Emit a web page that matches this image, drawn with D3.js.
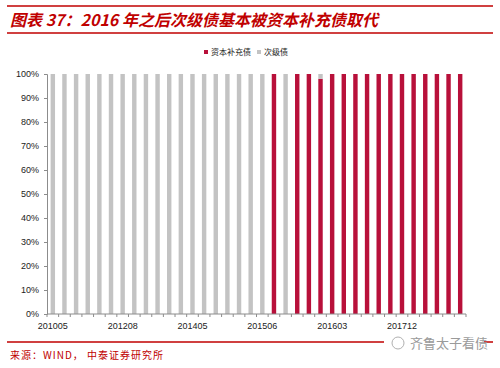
<!DOCTYPE html>
<html>
<head>
<meta charset="utf-8">
<script src="https://cdn.jsdelivr.net/npm/d3@7"></script>
<style>
  body { margin: 0; background: #fff; }
  svg { display: block; }
</style>
</head>
<body>
<div id="chart"></div>
<script>
// issue dates (only every 6th is labelled on the axis)
const categories = [
  "201005", "201009", "201012", "201103", "201109", "201203",
  "201208", "201210", "201212", "201303", "201309", "201312",
  "201405", "201408", "201410", "201412", "201502", "201504",
  "201506", "201508", "201509", "201511", "201512", "201601",
  "201603", "201606", "201609", "201612", "201703", "201709",
  "201712", "201803", "201806", "201809", "201812", "201903"
];

// share of capital supplement bonds (%)
const capitalBond = [
  0, 0, 0, 0, 0, 0, 0, 0, 0, 0, 0, 0, 0, 0, 0, 0, 0, 0,
  0, 100, 0, 100, 100, 98, 100, 100, 100, 100, 100, 100,
  100, 100, 100, 100, 100, 100
];
// share of subordinated bonds (%)
const subBond = [
  100, 100, 100, 100, 100, 100, 100, 100, 100, 100, 100, 100,
  100, 100, 100, 100, 100, 100, 100, 0, 100, 0, 0, 2,
  0, 0, 0, 0, 0, 0, 0, 0, 0, 0, 0, 0
];

const yTicks = [0, 10, 20, 30, 40, 50, 60, 70, 80, 90, 100];
const seriesNames = ["资本补充债", "次级债"];
const colors = ["#b8103a", "#c3c3c3"];

const width = 500, height = 368;
const margin = { left: 47, right: 34, top: 74, bottom: 54 };

const svg = d3.select("#chart").append("svg")
  .attr("width", width)
  .attr("height", height);

const darkRed = "#c00000";

// header lines and title
svg.append("line").attr("x1", 7).attr("x2", 493).attr("y1", 6).attr("y2", 6)
  .attr("stroke", darkRed).attr("stroke-width", 1.5);
svg.append("line").attr("x1", 7).attr("x2", 493).attr("y1", 33).attr("y2", 33)
  .attr("stroke", darkRed).attr("stroke-width", 1.5);

svg.append("text")
  .attr("x", 10).attr("y", 26)
  .attr("fill", darkRed)
  .style("font-family", "'Noto Sans CJK SC', sans-serif")
  .style("font-size", "16px")
  .style("font-weight", "bold")
  .style("font-style", "italic")
  .text("图表 37：2016 年之后次级债基本被资本补充债取代");

const x = d3.scaleBand()
  .domain(categories)
  .range([margin.left, width - margin.right])
  .paddingInner(0.62)
  .paddingOuter(0.31);

const y = d3.scaleLinear()
  .domain([0, 100])
  .range([height - margin.bottom, margin.top]);

const table = categories.map((c, i) => ({ cat: c, cap: capitalBond[i], sub: subBond[i] }));
const stacked = d3.stack().keys(["cap", "sub"])(table);

svg.append("g")
  .selectAll("g")
  .data(stacked)
  .join("g")
  .attr("fill", (d, i) => colors[i])
  .selectAll("rect")
  .data(d => d)
  .join("rect")
  .attr("x", d => x(d.data.cat))
  .attr("y", d => y(d[1]))
  .attr("width", x.bandwidth())
  .attr("height", d => y(d[0]) - y(d[1]));

const axisColor = "#8c8c8c";
const fontTick = "'Liberation Sans', Arial, sans-serif";

// y axis
const yAxis = svg.append("g")
  .attr("transform", `translate(${margin.left},0)`)
  .call(d3.axisLeft(y).tickValues(yTicks).tickSize(3).tickPadding(5)
    .tickFormat(d => d + "%"));
yAxis.select(".domain").attr("stroke", axisColor);
yAxis.selectAll(".tick line").attr("stroke", axisColor);
yAxis.selectAll("text")
  .attr("fill", "#222")
  .style("font-family", fontTick)
  .style("font-size", "9px");

// x axis
const step = x.step();
const xAxis = svg.append("g")
  .attr("transform", `translate(0,${height - margin.bottom})`);
xAxis.append("line")
  .attr("x1", margin.left).attr("x2", width - margin.right)
  .attr("stroke", axisColor);
xAxis.selectAll(".tk")
  .data(categories.concat(["end"]))
  .join("line")
  .attr("class", "tk")
  .attr("x1", (d, i) => margin.left + i * step)
  .attr("x2", (d, i) => margin.left + i * step)
  .attr("y1", 0).attr("y2", 3)
  .attr("stroke", axisColor);
xAxis.selectAll("text")
  .data(categories.filter((d, i) => i % 6 === 0))
  .join("text")
  .attr("x", d => x(d) + x.bandwidth() / 2)
  .attr("y", 15)
  .attr("text-anchor", "middle")
  .attr("fill", "#222")
  .style("font-family", fontTick)
  .style("font-size", "9px")
  .text(d => d);

// legend
const legend = svg.append("g").attr("transform", "translate(204,53)");
const legendX = [0, 53];
seriesNames.forEach((name, i) => {
  const g = legend.append("g").attr("transform", `translate(${legendX[i]},0)`);
  g.append("rect").attr("x", 0).attr("y", -3).attr("width", 4).attr("height", 4)
    .attr("fill", colors[i]);
  g.append("text").attr("x", 7).attr("y", 1.5)
    .attr("fill", "#222")
    .style("font-family", "'Noto Sans CJK SC', sans-serif")
    .style("font-size", "8px")
    .text(name);
});

// footer
svg.append("line").attr("x1", 7).attr("x2", 493).attr("y1", 342).attr("y2", 342)
  .attr("stroke", darkRed).attr("stroke-width", 1.5);
svg.append("rect").attr("x", 384).attr("y", 332).attr("width", 100).attr("height", 18)
  .attr("fill", "#fff");
svg.append("text")
  .attr("x", 410).attr("y", 348)
  .attr("fill", "#9a9a9a")
  .style("font-family", "'Noto Sans CJK SC', sans-serif")
  .style("font-size", "13px")
  .text("齐鲁太子看债");
svg.append("circle").attr("cx", 398).attr("cy", 343).attr("r", 6)
  .attr("fill", "none").attr("stroke", "#b0b0b0").attr("stroke-width", 1);

svg.append("text")
  .attr("x", 10).attr("y", 359)
  .attr("fill", darkRed)
  .style("font-family", "'Noto Sans CJK SC', sans-serif")
  .style("font-size", "10px")
  .style("letter-spacing", "1px")
  .text("来源：WIND，  中泰证券研究所");
</script>
</body>
</html>
